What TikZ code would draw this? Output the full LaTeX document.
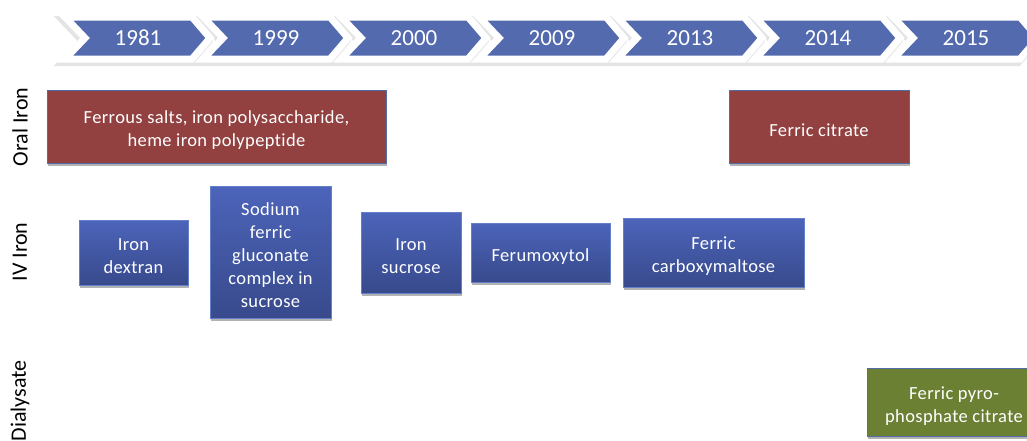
\documentclass[tikz,border=0pt]{standalone}
\usepackage{fontspec}
\setmainfont{Carlito}[Ligatures=NoCommon]
\usetikzlibrary{shadows}
\definecolor{chevblue}{RGB}{84,106,174}
\definecolor{oralred}{RGB}{146,64,64}
\definecolor{edgeblue}{RGB}{82,108,170}
\definecolor{ivtop}{RGB}{76,100,186}
\definecolor{ivbot}{RGB}{56,74,140}
\definecolor{ivedge}{RGB}{100,128,200}
\definecolor{dialgreen}{RGB}{108,128,51}
\newcommand{\toppad}{\rule{0pt}{20pt}}
\tikzset{
  boxbase/.style={rectangle, inner sep=0pt, text=white, align=center,
    font=\fontsize{18.5}{23}\selectfont\addfontfeature{LetterSpace=2},
    drop shadow={shadow xshift=1pt, shadow yshift=-3pt, opacity=0.3, fill=black}},
  oralbox/.style={boxbase, draw=edgeblue, line width=0.8pt, fill=oralred},
  ivbox/.style={boxbase, draw=ivedge, line width=0.8pt, top color=ivtop, bottom color=ivbot},
  dialbox/.style={boxbase, draw=edgeblue, line width=0.8pt, fill=dialgreen},
  sidelabel/.style={rotate=90, inner sep=0pt, font=\fontsize{22}{26}\selectfont, text=black},
  yearlabel/.style={inner sep=0pt, text=white, font=\fontsize{23}{27}\selectfont},
}
\begin{document}
\begin{tikzpicture}[x=1pt,y=-1pt]
\useasboundingbox (0,0) rectangle (1027,440);
\clip (0,0) rectangle (1027,440);
% timeline chevrons
\foreach \yr [count=\i from 0] in {1981,1999,2000,2009,2013,2014,2015} {
  \pgfmathsetmacro\L{65+138*\i}
  \draw[black!35, opacity=0.3, line width=8pt, line join=miter, fill=black!35]
    (\L-2,20) -- (\L+125,20) -- (\L+143,41) -- (\L+125,62) -- (\L-2,62) -- (\L+18,41) -- cycle;
}
\foreach \yr [count=\i from 0] in {1981,1999,2000,2009,2013,2014,2015} {
  \pgfmathsetmacro\L{65+138*\i}
  \draw[white, line width=7pt, line join=miter, fill=chevblue]
    (\L,17) -- (\L+127,17) -- (\L+145,38) -- (\L+127,59) -- (\L,59) -- (\L+20,38) -- cycle;
  \node[yearlabel] (yr\i) at (\L+73,38) {\yr};
}
% side labels
\node[sidelabel] (oral) at (20,127) {Oral Iron};
\node[sidelabel] (iv) at (20,252) {IV Iron};
\node[sidelabel] (dial) at (20,401) {Dialysate};
% oral iron
\node[oralbox, minimum width=339pt, minimum height=73pt] (ferrous) at (216.5,126.5)
  {\toppad Ferrous salts, iron polysaccharide,\\heme iron polypeptide};
\node[oralbox, minimum width=180pt, minimum height=73pt] (fcit) at (819,126.5) {\toppad Ferric citrate};
% IV iron
\node[ivbox, minimum width=109pt, minimum height=65pt] (dextran) at (133.5,252.5) {\toppad Iron\\dextran};
\node[ivbox, minimum width=121pt, minimum height=132pt] (sodium) at (270.5,252)
  {\toppad Sodium\\ferric\\gluconate\\complex in\\sucrose};
\node[ivbox, minimum width=100pt, minimum height=81pt] (sucrose) at (411,252.5) {\toppad Iron\\sucrose};
\node[ivbox, minimum width=139pt, minimum height=59pt] (ferumox) at (540.5,252.5) {\toppad Ferumoxytol};
\node[ivbox, minimum width=181pt, minimum height=69pt] (carboxy) at (713.5,252.5) {\toppad Ferric\\carboxymaltose};
% dialysate
\node[dialbox, minimum width=174pt, minimum height=68pt] (pyro) at (954,402) {\toppad Ferric pyro-\\phosphate citrate};
\end{tikzpicture}
\end{document}
